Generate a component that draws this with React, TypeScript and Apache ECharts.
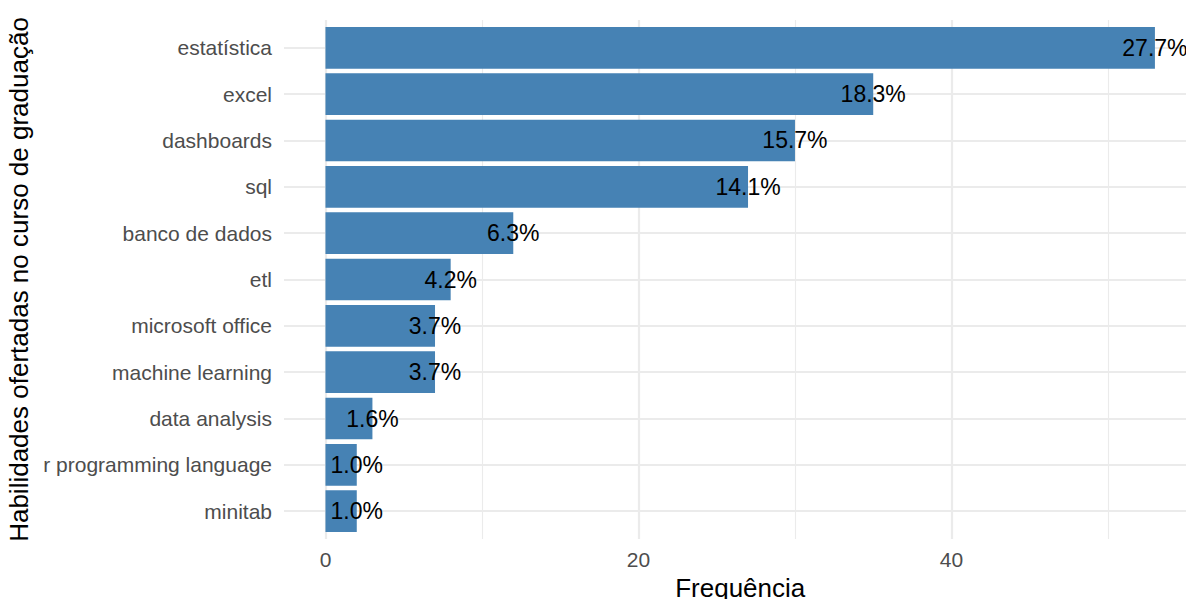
import React, { useEffect, useRef } from "react";
import * as echarts from "echarts";

const categories = [
  "estatística",
  "excel",
  "dashboards",
  "sql",
  "banco de dados",
  "etl",
  "microsoft office",
  "machine learning",
  "data analysis",
  "r programming language",
  "minitab",
];
const counts = [53, 35, 30, 27, 12, 8, 7, 7, 3, 2, 2];
const percentLabels = ["27.7%", "18.3%", "15.7%", "14.1%", "6.3%", "4.2%", "3.7%", "3.7%", "1.6%", "1.0%", "1.0%"];
const xMajorTicks = [0, 20, 40];
const xMinorTicks = [10, 30, 50];

const FONT = '"Liberation Sans", Arial, Helvetica, sans-serif';

export default function App() {
  const ref = useRef<HTMLDivElement>(null);
  useEffect(() => {
    if (!ref.current) return;
    const chart = echarts.init(ref.current, undefined, { renderer: "svg" });
    const maxCount = Math.max(...counts);
    const xMin = -0.05 * maxCount;
    const xMax = maxCount * 1.05;
    const positions = categories.map((_, i) => i + 1);
    const data = counts.map((c, i) => [c, i + 1, i]);
    const gridLines: any[] = [
      ...xMajorTicks.map((v) => ({ xAxis: v, lineStyle: { width: 2.2 } })),
      ...xMinorTicks.map((v) => ({ xAxis: v, lineStyle: { width: 1.1 } })),
      ...positions.map((v) => ({ yAxis: v, lineStyle: { width: 2.2 } })),
    ];
    chart.setOption({
      animation: false,
      backgroundColor: "#ffffff",
      textStyle: { fontFamily: FONT },
      grid: {
        left: 284,
        top: 20,
        width: 912.4,
        height: 519,
        containLabel: false,
        outerBoundsMode: "none",
      },
      xAxis: {
        type: "value",
        min: xMin,
        max: xMax,
        name: "Frequência",
        nameLocation: "middle",
        nameGap: 31,
        nameTextStyle: { fontSize: 26, color: "#000000", fontFamily: FONT },
        axisLine: { show: false },
        axisTick: { show: false },
        splitLine: { show: false },
        axisLabel: {
          customValues: xMajorTicks,
          fontSize: 21,
          color: "#4d4d4d",
          margin: 10,
          fontFamily: FONT,
        },
      },
      yAxis: {
        type: "value",
        inverse: true,
        min: 0.4,
        max: categories.length + 0.6,
        name: "Habilidades ofertadas no curso de graduação",
        nameLocation: "middle",
        nameRotate: 90,
        nameGap: 250,
        nameTextStyle: { fontSize: 26, color: "#000000", fontFamily: FONT },
        axisLine: { show: false },
        axisTick: { show: false },
        splitLine: { show: false },
        axisLabel: {
          customValues: positions,
          formatter: (v: number) => categories[Math.round(v) - 1] ?? "",
          fontSize: 21,
          color: "#4d4d4d",
          margin: 12,
          fontFamily: FONT,
        },
      },
      series: [
        {
          type: "line",
          data: [],
          silent: true,
          markLine: {
            silent: true,
            z: 1,
            symbol: ["none", "none"],
            label: { show: false },
            lineStyle: { color: "#ebebeb", type: "solid", width: 2.2 },
            emphasis: { disabled: true },
            data: gridLines,
          },
        },
        {
          type: "custom",
          z: 3,
          data,
          encode: { x: 0, y: 1 },
          renderItem: (params: any, api: any) => {
            const v = api.value(0);
            const pos = api.value(1);
            const idx = api.value(2);
            const start = api.coord([0, pos]);
            const end = api.coord([v, pos]);
            const h = Math.abs(api.size([0, 0.9])[1]);
            return {
              type: "group",
              children: [
                {
                  type: "rect",
                  shape: { x: start[0], y: end[1] - h / 2, width: end[0] - start[0], height: h },
                  style: { fill: "#4682B4" },
                },
                {
                  type: "text",
                  z2: 10,
                  style: {
                    x: end[0],
                    y: end[1],
                    text: percentLabels[idx],
                    align: "center",
                    verticalAlign: "middle",
                    fontSize: 23,
                    fontFamily: FONT,
                    fill: "#000000",
                  },
                },
              ],
            };
          },
        },
      ],
    });
    return () => chart.dispose();
  }, []);
  return (
    <div
      ref={ref}
      style={{ position: "fixed", left: 0, top: 0, width: 1186, height: 599, background: "#fff" }}
    />
  );
}
